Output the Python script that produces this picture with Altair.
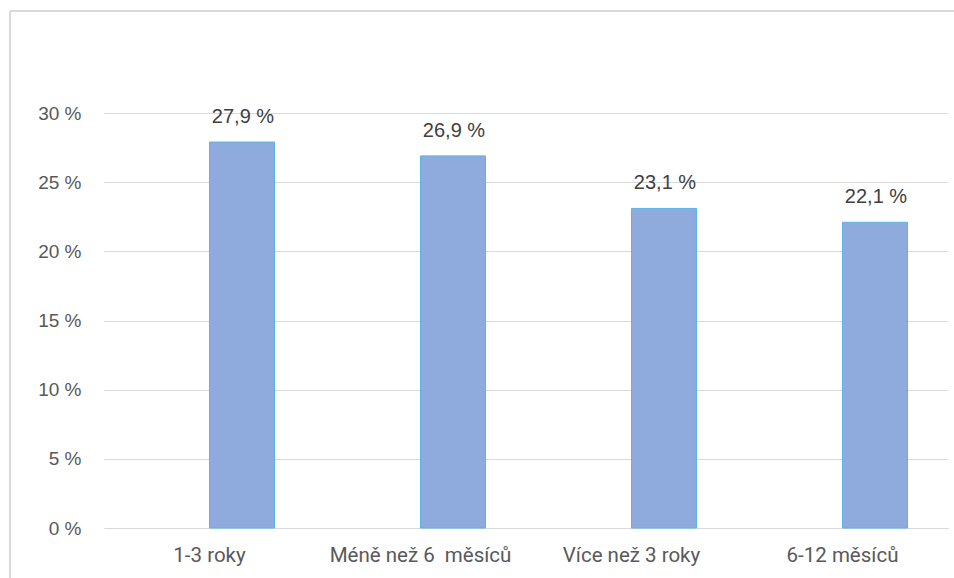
import altair as alt
import pandas as pd

# Délka období a podíl odpovědí (%)
kategorie = ["1-3 roky", "Méně než 6\u00a0 měsíců", "Více než 3 roky", "6-12 měsíců"]
podil = [27.9, 26.9, 23.1, 22.1]
rady = ["řada 1", "řada 2"]  # the first series is empty, so bars sit right of centre
y_ticks = [0, 5, 10, 15, 20, 25, 30]

df = pd.DataFrame({"kategorie": kategorie, "podil": podil, "rada": rady[1]})

GRID = "#d9d9d9"
TEXT = "#595959"

x_enc = alt.X(
    "kategorie:N",
    sort=kategorie,
    scale=alt.Scale(paddingInner=0.384, paddingOuter=0.192),
    axis=alt.Axis(
        title=None,
        labelAngle=0,
        labelFont="Roboto",
        labelFontSize=20.5,
        labelColor=TEXT,
        labelPadding=17,
        labelLimit=400,
        ticks=False,
        domainColor=GRID,
        domainWidth=1,
        grid=False,
    ),
)
xo_enc = alt.XOffset("rada:N", scale=alt.Scale(domain=rady, paddingInner=0, paddingOuter=0))
y_enc = alt.Y(
    "podil:Q",
    scale=alt.Scale(domain=[0, 30], nice=False),
    axis=alt.Axis(
        title=None,
        values=y_ticks,
        labelExpr="datum.value + ' %'",
        labelFont="Liberation Sans",
        labelFontSize=19,
        labelColor=TEXT,
        labelPadding=23,
        ticks=False,
        tickSize=0,
        domain=False,
        gridColor=GRID,
        gridWidth=1,
    ),
)

bars = alt.Chart(df).mark_bar(color="#8faadc", stroke="#5ab4e6", strokeWidth=1).encode(
    x=x_enc, xOffset=xo_enc, y=y_enc
)

labels = (
    alt.Chart(df)
    .transform_calculate(popis="replace(format(datum.podil, '.1f'), '.', ',') + ' %'")
    .mark_text(font="Liberation Sans", fontSize=20, color="#404040", baseline="alphabetic", dy=-19, dx=1)
    .encode(x=x_enc, xOffset=xo_enc, y=y_enc, text="popis:N")
)

# light frame around the chart area
frame_top = alt.Chart(df).mark_rule(color=GRID, strokeWidth=2).encode(
    x=alt.value(-94), x2=alt.value(851), y=alt.value(-102)
)
frame_left = alt.Chart(df).mark_rule(color=GRID, strokeWidth=2).encode(
    x=alt.value(-94), y=alt.value(-102), y2=alt.value(465)
)

chart = (
    alt.layer(frame_top, frame_left, bars, labels)
    .properties(
        width=844,
        height=415,
        autosize=alt.AutoSizeParams(type="none"),
        padding={"left": 104, "top": 113, "right": 6, "bottom": 50},
        background="white",
    )
    .configure_view(stroke=None)
)

chart.save("out.html", embed_options={"renderer": "svg", "actions": False})
